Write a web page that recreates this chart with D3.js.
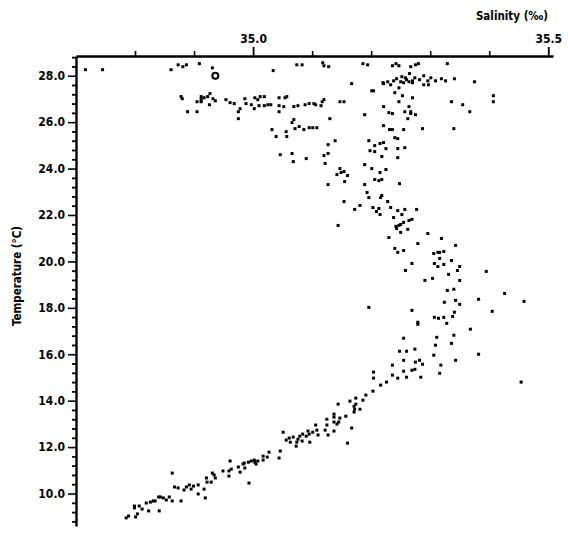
<!DOCTYPE html>
<html><head><meta charset="utf-8">
<script src="https://cdn.jsdelivr.net/npm/d3@7"></script>
<style>body{margin:0;background:#fff}svg{display:block}</style></head>
<body><svg id="c" width="568" height="536"></svg>
<script>
// ---- data: salinity (per mille) and temperature (°C) of each observation ----
const salinity = [
34.716,34.745,34.861,34.873,34.881,34.887,34.909,34.931,35.034,35.074,35.083,35.118,35.120,35.128,35.186,35.194,35.236,35.242,35.247,35.267,35.275,35.280,35.329,
35.265,35.289,35.258,35.238,35.221,35.220,35.250,35.255,35.264,35.270,35.270,35.282,35.296,35.297,35.289,35.309,35.326,35.341,35.375,35.167,35.204,35.201,35.247,35.240,35.253,35.270,35.247,35.221,35.264,35.267,35.267,35.257,35.275,35.262,35.336,35.355,35.367,35.407,35.407,35.189,35.230,35.236,
35.243,35.252,35.233,35.274,35.301,35.319,35.228,35.260,
34.878,34.880,34.905,34.912,34.912,34.912,34.917,34.923,34.926,34.927,34.932,34.936,34.954,34.961,34.968,34.975,34.978,34.986,34.988,34.997,35.002,35.003,35.008,35.012,35.019,35.010,35.019,35.025,35.030,35.044,35.044,35.052,35.054,35.057,35.069,35.076,35.088,35.095,35.103,35.106,35.115,35.117,35.120,35.147,35.154,
34.889,34.905,35.044,34.975,35.069,35.066,35.130,35.032,35.039,35.056,35.057,35.071,35.078,35.086,35.095,35.101,35.108,35.139,35.127,35.127,35.120,35.122,35.046,35.066,35.068,35.090,35.147,35.154,35.142,35.149,35.160,35.155,35.127,35.189,35.189,35.196,35.198,35.193,35.196,
35.221,35.231,35.236,35.255,35.287,35.340,35.240,35.245,35.206,35.215,35.221,35.206,35.225,35.245,35.257,35.218,35.245,35.201,35.215,35.225,35.206,35.213,35.218,35.248,35.218,
35.216,35.228,35.154,35.181,35.172,35.203,35.213,35.209,35.215,35.233,35.245,35.257,35.277,35.252,35.238,35.264,35.269,35.255,35.242,35.247,35.250,35.243,35.262,35.250,35.144,35.230,35.296,35.319,
35.240,35.245,35.255,35.279,35.306,35.313,35.316,35.323,35.316,35.307,35.313,35.323,35.336,35.343,35.350,35.346,35.269,35.258,35.331,35.291,35.304,35.350,35.329,35.340,35.343,35.350,35.324,35.196,
35.269,35.279,35.279,35.341,35.338,35.307,35.314,35.323,35.328,35.340,35.311,35.255,35.309,35.336,35.306,35.343,35.248,35.260,35.274,35.255,35.275,35.282,35.287,35.236,35.318,35.255,35.269,35.274,35.316,35.204,35.204,35.236,35.245,35.260,35.284,
35.395,35.426,35.459,35.454,35.382,35.368,35.405,35.382,
35.216,35.203,35.191,35.226,35.186,
34.785,34.789,34.801,34.804,34.799,34.799,34.807,34.812,34.819,34.823,34.826,34.831,34.834,34.840,34.843,34.848,34.841,34.853,34.858,34.863,34.863,34.867,34.873,34.878,34.883,34.887,34.892,34.895,34.899,34.907,34.907,34.917,34.919,34.922,34.929,34.921,34.931,34.934,34.936,34.949,34.959,34.959,34.963,34.961,34.975,34.978,34.983,34.986,34.985,34.992,34.997,35.002,35.003,35.005,34.993,35.008,35.017,35.017,35.024,35.027,35.044,35.046,
35.051,35.056,35.061,35.063,35.068,35.073,35.074,35.076,35.079,35.084,35.083,35.090,35.093,35.095,35.096,35.101,35.106,35.108,35.110,35.122,35.127,35.125,35.125,35.137,35.137,35.137,35.144,35.142,35.145,35.147,35.137,35.157,35.160,35.164,35.167,35.171,35.172,35.174,35.174,35.171,35.181
];
const temperature = [
28.26,28.26,28.26,28.47,28.39,28.47,28.52,28.34,28.22,28.47,28.47,28.56,28.43,28.39,28.52,28.47,28.43,28.52,28.43,28.39,28.47,28.52,28.52,
28.09,28.00,27.91,27.78,27.66,27.70,27.74,27.70,27.74,27.78,27.70,27.83,27.78,27.61,27.61,27.78,27.78,27.87,27.74,27.66,27.35,27.35,27.48,27.27,27.14,27.05,26.88,26.67,26.67,26.45,26.37,26.45,26.32,26.15,26.88,26.75,26.45,27.14,26.88,26.32,26.41,26.37,
27.87,27.96,27.61,27.91,27.91,27.87,27.74,27.83,
27.10,27.01,26.88,27.10,26.97,26.88,27.05,27.10,26.75,27.23,27.01,26.92,26.97,26.84,26.80,26.45,26.58,27.01,26.80,26.75,26.58,27.05,26.97,27.10,27.10,26.71,26.71,26.75,26.75,26.71,27.05,26.67,27.05,27.10,26.67,26.71,26.75,26.80,26.80,26.75,26.71,26.88,26.97,26.88,26.88,
26.45,26.45,26.45,26.15,26.11,25.98,26.15,25.68,25.38,25.59,25.38,25.72,25.81,25.68,25.76,25.76,25.76,25.20,25.03,24.65,24.56,24.22,24.60,24.65,24.30,24.43,24.00,23.87,23.74,23.83,23.70,23.44,23.31,23.31,24.17,25.20,24.77,22.97,22.75,
25.85,25.68,25.68,25.68,25.72,25.72,25.33,25.29,24.99,25.08,25.12,24.73,24.86,24.86,24.90,24.52,24.47,24.00,23.83,23.96,23.53,23.48,23.53,23.35,22.84,
22.75,22.58,22.58,22.41,22.24,22.32,22.28,22.15,22.02,22.32,22.19,22.24,22.24,22.02,21.89,21.76,21.81,21.68,21.51,21.55,21.59,21.42,21.38,21.25,21.55,21.03,21.20,20.99,
20.56,20.39,20.47,20.77,20.34,20.39,20.39,20.43,20.13,19.91,19.78,19.87,20.04,20.69,19.78,19.61,19.91,19.61,19.44,19.18,19.27,19.18,18.75,18.80,18.32,18.15,18.24,18.02,
17.89,17.38,17.29,17.81,17.63,17.59,17.55,17.59,17.33,16.82,16.73,16.69,16.39,16.47,15.96,15.74,16.13,16.13,16.22,15.74,15.66,15.74,15.57,15.53,15.53,15.27,15.31,15.35,15.18,15.23,14.97,15.10,14.97,15.01,15.01,
19.57,18.62,18.28,14.80,16.00,17.08,17.85,18.37,
14.67,14.41,14.24,14.80,14.02,
8.95,9.03,8.99,9.12,9.46,9.38,9.46,9.33,9.59,9.25,9.63,9.68,9.68,9.85,9.85,9.81,9.25,9.72,9.85,9.68,10.88,10.28,10.24,9.68,10.15,10.28,10.37,10.19,10.32,10.37,9.98,10.19,9.81,10.49,10.49,10.67,10.88,10.80,10.67,10.97,10.97,10.75,11.05,11.40,11.14,10.92,11.27,11.10,11.31,11.35,11.40,11.44,11.35,11.27,10.45,11.40,11.44,11.61,11.57,11.78,11.53,11.83,
12.64,12.30,12.39,12.21,12.43,12.04,12.21,12.34,12.47,12.56,12.26,12.47,12.69,12.56,12.21,12.64,12.95,12.73,12.52,12.73,12.52,12.95,13.20,13.42,13.29,13.08,13.85,12.99,13.08,13.25,12.69,13.33,12.17,13.98,12.82,13.76,13.63,14.11,13.85,13.51,13.63
];
// the single ringed observation
const ringSalinity = [34.936];
const ringTemperature = [28.0];

// ---- axes ----
const xMajorTicks = [35.0, 35.5];
const xMajorLabels = ["35.0", "35.5"];
const xMinorTicks = [34.8, 34.9, 35.1, 35.2, 35.3, 35.4];
const yMajorTicks = [10, 12, 14, 16, 18, 20, 22, 24, 26, 28];
const yMajorLabels = ["10.0","12.0","14.0","16.0","18.0","20.0","22.0","24.0","26.0","28.0"];
const xTitle = "Salinity (‰)";
const yTitle = "Temperature (°C)";

const FONT = "'DejaVu Sans Condensed', 'DejaVu Sans', sans-serif";
const svg = d3.select("#c");

const x = d3.scaleLinear().domain([34.7, 35.508]).range([76, 553]);
const y = d3.scaleLinear().domain([8.6, 28.85]).range([526, 56]);

const yMinorTicks = d3.range(8.8, 28.85, 0.4).map(v => +v.toFixed(1))
  .filter(v => !yMajorTicks.some(m => Math.abs(m - v) < 0.01));

// top axis: minor
svg.append("g").attr("transform", "translate(0,56)")
  .call(d3.axisTop(x).tickValues(xMinorTicks).tickSize(5).tickSizeOuter(0).tickFormat(""))
  .call(g => g.select(".domain").attr("stroke-width", 2.6))
  .call(g => g.selectAll(".tick line").attr("stroke-width", 1.6));
// top axis: major
svg.append("g").attr("transform", "translate(0,56)")
  .call(d3.axisTop(x).tickValues(xMajorTicks).tickSize(9).tickSizeOuter(0).tickPadding(4)
        .tickFormat((d, i) => xMajorLabels[i]))
  .call(g => g.select(".domain").remove())
  .call(g => g.selectAll(".tick line").attr("stroke-width", 1.8))
  .call(g => g.selectAll("text").attr("font-family", FONT).attr("font-weight", "bold")
        .attr("font-size", 12).attr("fill", "#000"));

// left axis: minor
svg.append("g").attr("transform", "translate(76,0)")
  .call(d3.axisLeft(y).tickValues(yMinorTicks).tickSize(4).tickSizeOuter(0).tickFormat(""))
  .call(g => g.select(".domain").attr("stroke-width", 2.4))
  .call(g => g.selectAll(".tick line").attr("stroke-width", 1.8));
// left axis: major
svg.append("g").attr("transform", "translate(76,0)")
  .call(d3.axisLeft(y).tickValues(yMajorTicks).tickSize(8).tickSizeOuter(0).tickPadding(3)
        .tickFormat((d, i) => yMajorLabels[i]))
  .call(g => g.select(".domain").remove())
  .call(g => g.selectAll(".tick line").attr("stroke-width", 1.6))
  .call(g => g.selectAll("text").attr("font-family", FONT).attr("font-weight", "bold")
        .attr("font-size", 12).attr("fill", "#000"));

// titles
svg.append("text").attr("x", 548).attr("y", 20).attr("text-anchor", "end")
  .attr("font-family", FONT).attr("font-size", 11.5).attr("font-weight", "bold")
  .text(xTitle);
svg.append("text").attr("transform", "translate(21,276) rotate(-90)")
  .attr("text-anchor", "middle")
  .attr("font-family", FONT).attr("font-size", 11.5).attr("font-weight", "bold")
  .text(yTitle);

// points
const pts = salinity.map((s, i) => ({s, t: temperature[i]}));
svg.append("g").selectAll("rect").data(pts).join("rect")
  .attr("x", d => x(d.s) - 1.5).attr("y", d => y(d.t) - 1.5)
  .attr("width", 3).attr("height", 3).attr("fill", "#000");

svg.append("g").selectAll("circle").data(ringSalinity.map((s, i) => ({s, t: ringTemperature[i]})))
  .join("circle")
  .attr("cx", d => x(d.s)).attr("cy", d => y(d.t)).attr("r", 3)
  .attr("fill", "none").attr("stroke", "#000").attr("stroke-width", 2);
</script></body></html>
